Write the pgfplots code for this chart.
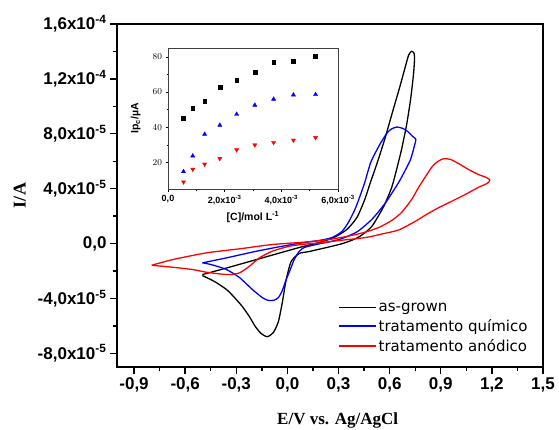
\documentclass[border=0pt]{standalone}
\usepackage{fontspec}
\setmainfont{Liberation Sans}
\newfontfamily\timesfont{Liberation Serif}
\newfontfamily\verdanafont{DejaVu Sans}
\usepackage{pgfplots}
\pgfplotsset{compat=1.18}
\usetikzlibrary{calc}

\begin{document}
\begin{tikzpicture}
\begin{axis}[
  at={(0,0)}, anchor=south west,
  width=426pt, height=343pt, scale only axis,
  xmin=-1.0, xmax=1.5, ymin=-9, ymax=16,
  axis line style={line width=1.6pt},
  tick style={line width=1.4pt, black},
  major tick length=7pt, minor tick length=4pt,
  tick align=outside, xtick pos=bottom, ytick pos=left,
  xtick={-0.9,-0.6,-0.3,0,0.3,0.6,0.9,1.2,1.5},
  xticklabels={{-0,9},{-0,6},{-0,3},{0,0},{0,3},{0,6},{0,9},{1,2},{1,5}},
  ytick={-8,-4,0,4,8,12,16},
  yticklabels={{-8,0x10\textsuperscript{-5}},{-4,0x10\textsuperscript{-5}},{0,0},{4,0x10\textsuperscript{-5}},{8,0x10\textsuperscript{-5}},{1,2x10\textsuperscript{-4}},{1,6x10\textsuperscript{-4}}},
  minor x tick num=1, minor y tick num=1,
  ticklabel style={font=\bfseries\fontsize{17}{17}\selectfont},
  xlabel={E/V vs. Ag/AgCl}, ylabel={I/A},
  xlabel style={font=\timesfont\bfseries\fontsize{17}{17}\selectfont, at={(axis description cs:0.518,-0.155)}, anchor=center},
  ylabel style={font=\timesfont\bfseries\fontsize{18}{18}\selectfont, at={(axis description cs:-0.228,0.5)}, anchor=center},
  legend cell align=left,
  legend image code/.code={\draw[#1, line width=1.2pt] (0pt,0pt) -- (37pt,0pt);},
  legend style={at={(axis description cs:0.976,0.199)}, anchor=north east, draw=none, fill=none,
    font=\verdanafont\fontsize{15}{15}\selectfont, row sep=2.5pt},
  every axis plot/.append style={line width=1.3pt, line join=round, smooth, tension=0.4},
]
\coordinate (sw) at (rel axis cs:0,0);

% as-grown
\addplot[black, no markers] coordinates {
(-0.499,-2.263) (-0.369,-1.825) (-0.223,-1.314) (-0.077,-0.803) (0.069,-0.292) (0.186,0.073)
(0.273,0.438) (0.349,1.022) (0.408,1.898) (0.454,3.212) (0.489,4.526) (0.524,5.767)
(0.571,7.592) (0.618,9.636) (0.659,11.388) (0.688,12.702) (0.711,13.724) (0.729,14.016)
(0.743,13.87) (0.746,13.432) (0.740,12.337) (0.723,10.512) (0.700,8.687) (0.670,6.862)
(0.641,5.402) (0.612,4.088) (0.565,2.701) (0.495,1.241) (0.420,0.480) (0.340,0.060) (0.262,-0.197)
(0.127,-0.584) (0.069,-0.73) (0.022,-1.314) (-0.007,-2.628) (-0.030,-4.307) (-0.053,-5.694)
(-0.083,-6.497) (-0.118,-6.789) (-0.153,-6.57) (-0.188,-6.059) (-0.223,-5.329) (-0.264,-4.599)
(-0.310,-3.942) (-0.357,-3.358) (-0.427,-2.774) (-0.499,-2.336)
};
% tratamento quimico
\addplot[blue, no markers] coordinates {
(-0.499,-1.409) (-0.357,-1.044) (-0.182,-0.562) (-0.030,-0.197) (0.110,0.095) (0.186,0.219)
(0.262,0.438) (0.320,0.876) (0.361,1.606) (0.396,2.482) (0.419,3.212) (0.454,4.453)
(0.489,5.913) (0.536,7.081) (0.583,8.03) (0.612,8.359) (0.643,8.49) (0.676,8.395)
(0.705,8.176) (0.735,7.811) (0.754,7.592) (0.746,7.154) (0.723,6.132) (0.688,5.256)
(0.653,4.453) (0.612,3.65) (0.577,2.993) (0.536,2.336) (0.495,1.752) (0.449,1.241)
(0.402,0.803) (0.303,0.292) (0.168,-0.073) (0.098,-0.292) (0.069,-0.584) (0.040,-1.168)
(0.017,-1.898) (-0.007,-2.628) (-0.030,-3.431) (-0.053,-3.942) (-0.077,-4.125) (-0.096,-4.161)
(-0.118,-4.125) (-0.147,-3.942) (-0.205,-3.358) (-0.281,-2.482) (-0.357,-1.898) (-0.427,-1.606)
(-0.474,-1.46) (-0.499,-1.409)
};
% tratamento anodico
\addplot[red, no markers] coordinates {
(-0.797,-1.584) (-0.672,-1.168) (-0.474,-0.679) (-0.281,-0.387) (-0.089,-0.073) (0.110,0.110)
(0.244,0.292) (0.361,0.548) (0.449,0.803) (0.536,1.168) (0.612,1.679) (0.670,2.263)
(0.729,3.212) (0.770,4.088) (0.811,4.891) (0.846,5.548) (0.875,5.913) (0.916,6.183)
(0.956,6.132) (1.003,5.84) (1.062,5.402) (1.120,5.037) (1.167,4.818) (1.188,4.621)
(1.172,4.38) (1.120,4.088) (1.044,3.577) (0.962,3.066) (0.886,2.606) (0.816,2.117)
(0.752,1.628) (0.653,0.986) (0.554,0.694) (0.460,0.438) (0.303,0.219) (0.186,0.037)
(0.110,-0.037) (0.011,-0.197) (-0.089,-0.562) (-0.164,-1.044) (-0.223,-1.657) (-0.281,-2.139)
(-0.340,-2.263) (-0.398,-2.212) (-0.474,-2.095) (-0.556,-1.898) (-0.672,-1.730) (-0.797,-1.584)
};
\legend{as-grown, tratamento químico, tratamento anódico}
\end{axis}

% inset
\begin{axis}[
  at={($(sw)+(51pt,178pt)$)}, anchor=south west,
  width=170pt, height=141pt, scale only axis,
  xmin=0, xmax=6, ymin=5, ymax=85,
  axis line style={line width=0.7pt, black!75},
  tick style={line width=0.6pt, black},
  major tick length=2.5pt, minor tick length=1.5pt,
  tick align=outside, xtick pos=bottom, ytick pos=left,
  xtick={0,2,4,6},
  xticklabels={{0,0},{2,0x10\textsuperscript{-3}},{4,0x10\textsuperscript{-3}},{6,0x10\textsuperscript{-3}}},
  ytick={20,40,60,80},
  minor x tick num=1, minor y tick num=1,
  ticklabel style={font=\bfseries\fontsize{9}{9}\selectfont},
  xlabel={[C]/mol L\textsuperscript{-1}}, ylabel={Ip\textsubscript{c}/µA},
  xlabel style={font=\bfseries\fontsize{10.5}{10.5}\selectfont, at={(axis description cs:0.5,-0.2)}, anchor=center},
  ylabel style={font=\bfseries\fontsize{10.5}{10.5}\selectfont, at={(axis description cs:-0.19,0.5)}, anchor=center},
]
\addplot[only marks, mark=square*, mark size=1.9pt, black] coordinates {
(0.548,45.2) (0.874,50.7) (1.293,54.8) (1.829,62.6) (2.423,66.9) (3.064,71.5) (3.728,76.8) (4.427,77.5) (5.208,80.4)
};
\addplot[only marks, mark=triangle*, mark size=2.4pt, blue] coordinates {
(0.548,14.9) (0.874,23.8) (1.293,36.1) (1.829,41.2) (2.423,47.4) (3.064,52.6) (3.728,56.0) (4.427,58.4) (5.208,58.6)
};
\addplot[only marks, mark=triangle*, mark options={rotate=180}, mark size=2.4pt, red] coordinates {
(0.548,9.0) (0.874,16.2) (1.293,19.1) (1.829,22.3) (2.423,27.2) (3.064,30.0) (3.728,31.4) (4.427,32.7) (5.208,34.2)
};
\end{axis}

\pgfresetboundingbox
\path[use as bounding box] ($(sw)+(-117pt,-62pt)$) rectangle ($(sw)+(442pt,367pt)$);
\end{tikzpicture}
\end{document}
